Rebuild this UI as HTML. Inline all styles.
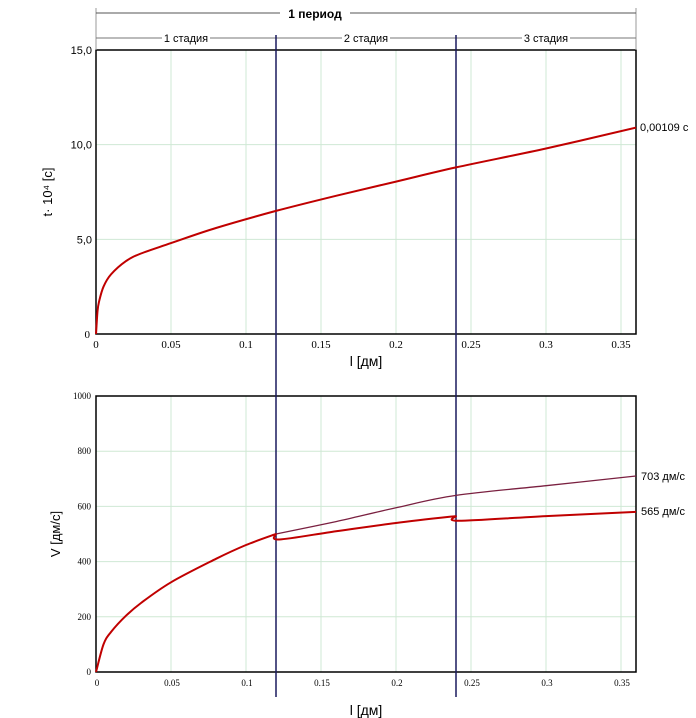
<!DOCTYPE html>
<html><head><meta charset="utf-8"><style>
body{margin:0;background:#fff;width:696px;height:718px;overflow:hidden}
svg{display:block}
</style></head><body>
<svg width="696" height="718" id="s" font-family="Liberation Sans, sans-serif">
</svg>
<script>
const tL=[0,0.001,0.002,0.005,0.01,0.02,0.03,0.05,0.08,0.12,0.16,0.2,0.24,0.3,0.36];
const tV=[0,1.2,1.7,2.5,3.15,3.85,4.25,4.8,5.6,6.5,7.3,8.05,8.8,9.8,10.9];
const v1L=[0,0.005,0.01,0.02,0.03,0.05,0.08,0.1,0.12];
const v1V=[0,100,145,204,250,325,410,460,500];
const v2L=[0.12,0.122,0.16,0.2,0.24];
const v2V=[500,480,510,540,565];
const v3L=[0.24,0.242,0.3,0.36];
const v3V=[565,548,565,580];
const vpL=[0.12,0.16,0.2,0.24,0.3,0.36];
const vpV=[500,545,595,640,675,710];
const xTicks=[0,0.05,0.1,0.15,0.2,0.25,0.3,0.35];
const stageX=[0.12,0.24];
const s=document.getElementById('s');const NS='http://www.w3.org/2000/svg';
function E(t,a,txt,name){const e=document.createElementNS(NS,t);for(const k in a)e.setAttribute(k,a[k]);if(txt!=null)e.textContent=txt;


s.appendChild(e);return e;}
const X=l=>96+l*1500;
const Y1=v=>334-v*(284/15);
const Y2=v=>672-v*0.276;
xTicks.slice(1).forEach(t=>{E('line',{x1:X(t),x2:X(t),y1:50,y2:334,stroke:'#cfe8d4'},null,'top-grid-x');E('line',{x1:X(t),x2:X(t),y1:396,y2:672,stroke:'#cfe8d4'},null,'bottom-grid-x');});
[5,10].forEach(v=>E('line',{x1:96,x2:636,y1:Y1(v),y2:Y1(v),stroke:'#cfe8d4'},null,'top-grid-y'));
[200,400,600,800].forEach(v=>E('line',{x1:96,x2:636,y1:Y2(v),y2:Y2(v),stroke:'#cfe8d4'},null,'bottom-grid-y'));
E('rect',{x:96,y:50,width:540,height:284,fill:'none',stroke:'#000','stroke-width':1.5},null,'top-plot-frame');
E('rect',{x:96,y:396,width:540,height:276,fill:'none',stroke:'#000','stroke-width':1.5},null,'bottom-plot-frame');
E('line',{x1:96,x2:96,y1:8,y2:50,stroke:'#999'},null,'period-left');
E('line',{x1:636,x2:636,y1:8,y2:50,stroke:'#999'},null,'period-right');
E('line',{x1:96,x2:636,y1:13,y2:13,stroke:'#555'},null,'period-line');
E('rect',{x:280,y:5,width:70,height:14,fill:'#fff'},null,'period-bg');
E('text',{x:315,y:18,'font-size':12,'font-weight':'bold','text-anchor':'middle'},'1 период','period-label');
E('line',{x1:96,x2:636,y1:38,y2:38,stroke:'#777'},null,'stage-line');
[[186,'1 стадия'],[366,'2 стадия'],[546,'3 стадия']].forEach(([x,t],i)=>{E('rect',{x:x-24,y:31,width:48,height:13,fill:'#fff'},null,'stage-bg');E('text',{x:x,y:42,'font-size':11,'text-anchor':'middle'},t,'stage-label-'+(i+1));});
stageX.forEach(l=>E('line',{x1:X(l),x2:X(l),y1:35,y2:697,stroke:'#1a1a5e','stroke-width':1.5},null,'stage-boundary'));
xTicks.forEach(t=>{E('text',{x:X(t),y:348,'font-size':11,'font-family':'Liberation Serif, serif','text-anchor':'middle'},String(t),'top-x-tick');
E('text',{x:X(t)+1,y:686,'font-size':9,'font-family':'Liberation Serif, serif','text-anchor':'middle'},String(t),'bottom-x-tick');});
[[0,'0'],[5,'5,0'],[10,'10,0'],[15,'15,0']].forEach(([v,t])=>E('text',{x:v==0?90:92,y:Y1(v)+4,'font-size':11,'text-anchor':'end','font-family':v==0?'Liberation Serif, serif':'Liberation Sans, sans-serif'},t,'top-y-tick'));
[0,200,400,600,800,1000].forEach(v=>E('text',{x:91,y:Y2(v)+3,'font-size':9,'font-family':'Liberation Serif, serif','text-anchor':'end'},String(v),'bottom-y-tick'));
E('text',{x:366,y:366,'font-size':14,'text-anchor':'middle'},'l [дм]','top-x-title');
E('text',{x:366,y:715,'font-size':14,'text-anchor':'middle'},'l [дм]','bottom-x-title');
E('text',{x:0,y:0,'font-size':13,'text-anchor':'middle',transform:'translate(52,192) rotate(-90)'},'t· 10⁴ [c]','top-y-title');
E('text',{x:0,y:0,'font-size':13,'text-anchor':'middle',transform:'translate(60,534) rotate(-90)'},'V [дм/с]','bottom-y-title');
function P(L,V,Y){const p=L.map((l,i)=>[X(l),Y(V[i])]);let d='M'+p[0][0].toFixed(1)+','+p[0][1].toFixed(1);
for(let i=0;i<p.length-1;i++){const a=p[Math.max(0,i-1)],b=p[i],c=p[i+1],e=p[Math.min(p.length-1,i+2)];
const c1=[b[0]+(c[0]-a[0])/6,b[1]+(c[1]-a[1])/6],c2=[c[0]-(e[0]-b[0])/6,c[1]-(e[1]-b[1])/6];
d+=' C'+c1.map(v=>v.toFixed(1)).join(',')+' '+c2.map(v=>v.toFixed(1)).join(',')+' '+c[0].toFixed(1)+','+c[1].toFixed(1);}
return d;}
E('path',{d:P(tL,tV,Y1),fill:'none',stroke:'#c00000','stroke-width':2},null,'time-curve');
E('path',{d:P(vpL,vpV,Y2),fill:'none',stroke:'#7a2040','stroke-width':1.3},null,'velocity-ideal-curve');
E('path',{d:P(v1L,v1V,Y2),fill:'none',stroke:'#c00000','stroke-width':2},null,'velocity-stage1');
E('path',{d:P(v2L,v2V,Y2),fill:'none',stroke:'#c00000','stroke-width':2},null,'velocity-stage2');
E('path',{d:P(v3L,v3V,Y2),fill:'none',stroke:'#c00000','stroke-width':2},null,'velocity-stage3');
E('text',{x:640,y:131,'font-size':11},'0,00109 с','time-end-label');
E('text',{x:641,y:480,'font-size':11},'703 дм/с','v-ideal-label');
E('text',{x:641,y:515,'font-size':11},'565 дм/с','v-real-label');
</script>
</body></html>
